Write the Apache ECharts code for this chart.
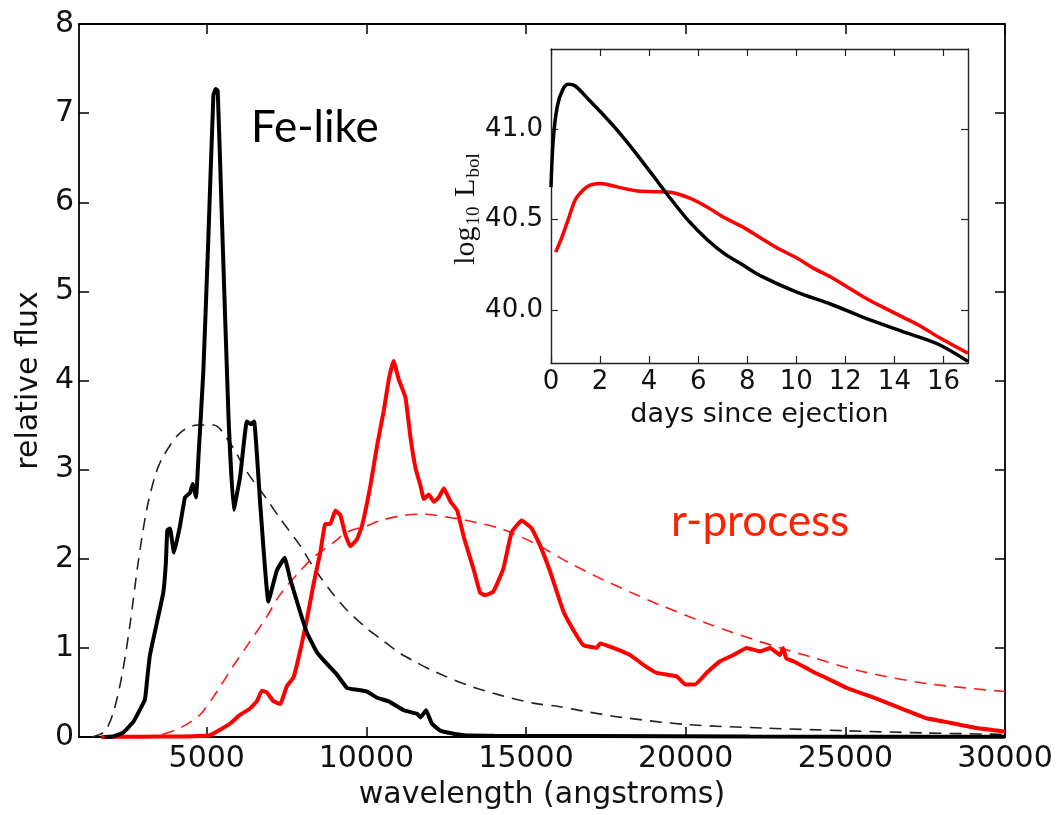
<!DOCTYPE html>
<html><head><meta charset="utf-8">
<script src="https://cdn.jsdelivr.net/npm/echarts@6/dist/echarts.min.js"></script>
<style>html,body{margin:0;padding:0;background:#fff}#c{width:1058px;height:815px}</style>
</head><body><div id="c"></div>
<script>
// Main panel: wavelength (angstroms) vs relative flux
const feSpectrum = [[1800,0],[2070,0.005],[2385,0.05],[2700,0.17],[2855,0.27],[3065,0.42],[3150,0.7],[3222,0.92],[3431,1.27],[3640,1.62],[3720,1.95],[3766,2.32],[3849,2.34],[3975,2.07],[4163,2.37],[4320,2.69],[4477,2.74],[4561,2.84],[4665,2.69],[4738,3.12],[4895,4.11],[5052,5.61],[5209,7.2],[5280,7.27],[5345,7.25],[5471,5.86],[5680,3.61],[5845,2.55],[6046,2.92],[6255,3.54],[6381,3.51],[6485,3.54],[6674,2.62],[6930,1.52],[7197,1.87],[7440,2.01],[7615,1.77],[7929,1.4],[8138,1.17],[8452,0.95],[8766,0.82],[9079,0.7],[9393,0.55],[9707,0.53],[10021,0.51],[10335,0.44],[10700,0.4],[11172,0.3],[11590,0.26],[11700,0.22],[11870,0.3],[12050,0.15],[12322,0.07],[12620,0.045],[13054,0.02],[14000,0.015],[17000,0.01],[22000,0.005],[30000,0.003]];
const rSpectrum = [[1700,0],[3000,0.003],[4200,0.006],[5100,0.02],[5732,0.15],[6046,0.25],[6360,0.32],[6569,0.4],[6726,0.52],[6883,0.5],[7092,0.4],[7301,0.37],[7510,0.57],[7720,0.67],[7929,0.97],[8138,1.32],[8347,1.72],[8557,2.07],[8713,2.39],[8870,2.39],[9027,2.54],[9184,2.49],[9341,2.27],[9498,2.14],[9707,2.22],[9864,2.37],[10126,2.82],[10335,3.27],[10544,3.66],[10701,4.01],[10850,4.22],[11015,4.01],[11224,3.81],[11381,3.36],[11537,3.02],[11694,2.82],[11799,2.67],[11956,2.72],[12113,2.64],[12270,2.69],[12427,2.79],[12636,2.64],[12845,2.54],[13054,2.24],[13368,1.87],[13560,1.62],[13716,1.59],[13977,1.63],[14290,1.89],[14551,2.30],[14865,2.43],[15178,2.34],[15439,2.15],[15752,1.86],[16169,1.41],[16482,1.2],[16795,1.03],[17214,1.0],[17318,1.05],[17735,1.0],[18257,0.92],[18675,0.81],[19093,0.72],[19720,0.68],[19980,0.59],[20293,0.59],[20659,0.72],[21076,0.85],[21494,0.92],[21912,1.0],[22329,0.96],[22642,1.0],[22955,0.92],[23050,1.0],[23150,0.88],[23373,0.85],[24000,0.73],[24418,0.66],[25045,0.55],[25671,0.47],[26193,0.4],[26820,0.31],[27550,0.21],[28280,0.16],[29115,0.1],[30000,0.06]];
const feBlackbody = [[1400,0],[1800,0.06],[2070,0.27],[2350,0.7],[2600,1.27],[2850,1.95],[3120,2.55],[3400,2.95],[3640,3.15],[4160,3.41],[4700,3.5],[5210,3.5],[5730,3.3],[6250,2.98],[6880,2.67],[7300,2.45],[7920,2.15],[8350,1.9],[8965,1.6],[9400,1.42],[10010,1.22],[10450,1.1],[11050,0.94],[11500,0.85],[12100,0.74],[13140,0.585],[14185,0.47],[15230,0.38],[16060,0.34],[16800,0.29],[18000,0.22],[20030,0.14],[22500,0.1],[25000,0.07],[27500,0.045],[30000,0.03]];
const rBlackbody = [[3000,0],[3500,0.02],[4160,0.1],[4790,0.25],[5210,0.45],[5835,0.8],[6255,1.02],[6880,1.35],[7300,1.6],[7920,1.86],[8350,2.02],[8965,2.18],[9400,2.3],[10010,2.37],[10450,2.43],[11050,2.48],[11700,2.5],[12100,2.49],[13140,2.43],[14185,2.34],[15230,2.18],[16270,1.97],[17320,1.78],[18300,1.62],[19200,1.48],[20700,1.27],[22330,1.07],[23900,0.9],[25460,0.74],[27550,0.6],[30000,0.51]];
const wavelengthTicks = [5000,10000,15000,20000,25000,30000];

// Inset: days since ejection vs log10 L_bol
const feLightCurve = [[0,40.68],[0.09,40.94],[0.26,41.13],[0.48,41.22],[0.7,41.25],[0.99,41.24],[1.57,41.16],[2.0,41.1],[2.73,40.99],[3.45,40.87],[4.18,40.74],[4.91,40.61],[5.63,40.49],[6.36,40.39],[7.08,40.31],[7.81,40.25],[8.53,40.19],[9.99,40.1],[11.44,40.03],[12.89,39.95],[14.34,39.88],[15.79,39.81],[17,39.715]];
const rLightCurve = [[0.19,40.32],[0.41,40.39],[0.7,40.5],[0.99,40.61],[1.28,40.66],[1.57,40.69],[2.0,40.7],[2.73,40.68],[3.45,40.66],[4.18,40.655],[4.91,40.65],[5.63,40.62],[6.36,40.57],[7.08,40.51],[7.81,40.46],[8.53,40.4],[9.26,40.34],[9.99,40.29],[10.71,40.23],[11.44,40.18],[12.16,40.12],[12.89,40.06],[13.61,40.01],[14.34,39.96],[15.07,39.91],[15.79,39.85],[17,39.76]];
const dayTicks = [0,2,4,6,8,10,12,14,16];
const lumTicks = [40.0,40.5,41.0];

const chart = echarts.init(document.getElementById('c'));
const txt = '#111';
const axBase = (extra) => Object.assign({
  type: 'value', splitLine: {show: false},
  axisLine: {show: true, onZero: false, lineStyle: {color: '#000', width: 1.8}},
  axisTick: {show: true, inside: true, length: 10, lineStyle: {color: '#000', width: 1.5}},
}, extra);

chart.setOption({
  backgroundColor: '#fff',
  animation: false,
  grid: [
    {left: 79, top: 24, width: 926, height: 715},
    {left: 551, top: 49, width: 417, height: 314, show: true, backgroundColor: '#fff', borderWidth: 0, z: 5}
  ],
  xAxis: [
    axBase({gridIndex: 0, min: 1000, max: 30000, position: 'bottom',
      axisTick: {show: true, inside: true, length: 10, customValues: wavelengthTicks, lineStyle: {color: '#000', width: 1.5}},
      axisLabel: {customValues: wavelengthTicks, formatter: v => String(v), fontSize: 30, color: txt, margin: 7, fontFamily: 'DejaVu Sans'},
      name: 'wavelength (angstroms)', nameLocation: 'middle', nameGap: 43,
      nameTextStyle: {fontSize: 30, color: txt, fontFamily: 'DejaVu Sans'}}),
    axBase({gridIndex: 0, min: 1000, max: 30000, position: 'top',
      axisTick: {show: true, inside: true, length: 10, customValues: wavelengthTicks, lineStyle: {color: '#000', width: 1.5}},
      axisLabel: {show: false}}),
    axBase({gridIndex: 1, min: 0, max: 17, position: 'bottom', z: 6,
      axisLine: {show: true, onZero: false, lineStyle: {color: '#222', width: 1.4}},
      axisTick: {show: true, inside: true, length: 7, customValues: dayTicks, lineStyle: {color: '#222', width: 1.2}},
      axisLabel: {customValues: dayTicks, formatter: v => String(v), fontSize: 26, color: txt, margin: 6, fontFamily: 'DejaVu Sans'},
      name: 'days since ejection', nameLocation: 'middle', nameGap: 38,
      nameTextStyle: {fontSize: 27, color: txt, fontFamily: 'DejaVu Sans'}}),
    axBase({gridIndex: 1, min: 0, max: 17, position: 'top', z: 6,
      axisLine: {show: true, onZero: false, lineStyle: {color: '#222', width: 1.4}},
      axisTick: {show: true, inside: true, length: 7, customValues: dayTicks, lineStyle: {color: '#222', width: 1.2}},
      axisLabel: {show: false}})
  ],
  yAxis: [
    axBase({gridIndex: 0, min: 0, max: 8, interval: 1, position: 'left',
      axisLabel: {fontSize: 30, color: txt, margin: 5, fontFamily: 'DejaVu Sans'},
      name: 'relative flux', nameLocation: 'middle', nameGap: 31, nameRotate: 90,
      nameTextStyle: {fontSize: 30, color: txt, fontFamily: 'DejaVu Sans'}}),
    axBase({gridIndex: 0, min: 0, max: 8, interval: 1, position: 'right', axisLabel: {show: false}}),
    axBase({gridIndex: 1, min: 39.706, max: 41.445, position: 'left', z: 6,
      axisLine: {show: true, onZero: false, lineStyle: {color: '#222', width: 1.4}},
      axisTick: {show: true, inside: true, length: 7, customValues: lumTicks, lineStyle: {color: '#222', width: 1.2}},
      axisLabel: {customValues: lumTicks, formatter: v => v.toFixed(1), fontSize: 26, color: txt, margin: 8, fontFamily: 'DejaVu Sans'}}),
    axBase({gridIndex: 1, min: 39.706, max: 41.445, position: 'right', z: 6,
      axisLine: {show: true, onZero: false, lineStyle: {color: '#222', width: 1.4}},
      axisTick: {show: true, inside: true, length: 7, customValues: lumTicks, lineStyle: {color: '#222', width: 1.2}},
      axisLabel: {show: false}})
  ],
  series: [
    {type: 'line', xAxisIndex: 0, yAxisIndex: 0, data: feBlackbody, showSymbol: false, silent: true, smooth: 0.3,
      lineStyle: {color: '#222', width: 1.6, type: [12, 8]}},
    {type: 'line', xAxisIndex: 0, yAxisIndex: 0, data: rBlackbody, showSymbol: false, silent: true, smooth: 0.3,
      lineStyle: {color: '#ff1a1a', width: 1.6, type: [12, 8]}},
    {type: 'line', xAxisIndex: 0, yAxisIndex: 0, data: rSpectrum, showSymbol: false, silent: true, smooth: 0.1,
      lineStyle: {color: '#ff0000', width: 4}},
    {type: 'line', xAxisIndex: 0, yAxisIndex: 0, data: feSpectrum, showSymbol: false, silent: true, smooth: 0.1,
      lineStyle: {color: '#000', width: 4}},
    {type: 'line', xAxisIndex: 2, yAxisIndex: 2, data: rLightCurve, showSymbol: false, silent: true, z: 7, smooth: 0.3,
      lineStyle: {color: '#ff0000', width: 3.5}},
    {type: 'line', xAxisIndex: 2, yAxisIndex: 2, data: feLightCurve, showSymbol: false, silent: true, z: 7, smooth: 0.3,
      lineStyle: {color: '#000', width: 3.5}}
  ],
  graphic: [
    {type: 'text', left: 251, top: 106, z: 10, style: {text: 'Fe-like', fontSize: 44, fontFamily: 'Lato', fill: '#000'}},
    {type: 'text', left: 671, top: 500, z: 10, style: {text: 'r-process', fontSize: 44, fontFamily: 'Lato', fill: '#ff2200'}},
    {type: 'text', x: 466, y: 208, rotation: Math.PI / 2, z: 10,
      style: {text: '{a|log}{s|10}{a| L}{s|bol}', align: 'center', verticalAlign: 'middle',
        rich: {
          a: {fontSize: 30, fontFamily: 'Liberation Serif', fill: '#111', lineHeight: 36},
          s: {fontSize: 19, fontFamily: 'Liberation Serif', fill: '#111', verticalAlign: 'bottom', padding: [0, 2, 0, 1]}
        }}}
  ]
});
</script>
</body></html>
